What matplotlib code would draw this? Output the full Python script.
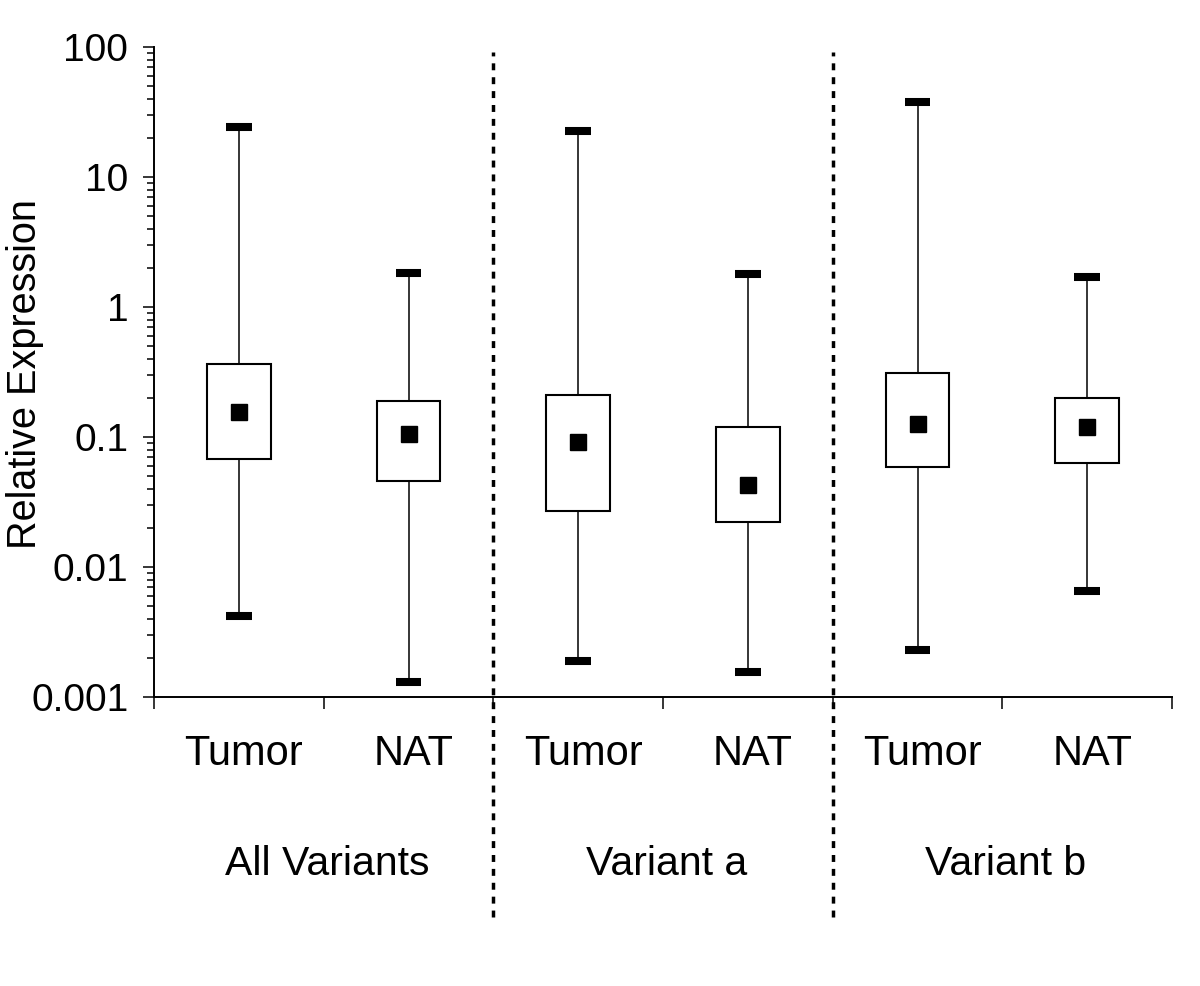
import matplotlib
matplotlib.use("Agg")
import matplotlib.pyplot as plt
from matplotlib.ticker import FixedLocator, FixedFormatter, LogLocator, NullFormatter

plt.rcParams['font.family'] = ['Liberation Sans', 'DejaVu Sans']

# ---- data ----
categories = ["Tumor", "NAT", "Tumor", "NAT", "Tumor", "NAT"]
groups = ["All Variants", "Variant a", "Variant b"]
whisker_high = [24.2, 1.82, 22.5, 1.81, 38.0, 1.70]
q3_values = [0.363, 0.189, 0.211, 0.119, 0.313, 0.200]
mean_values = [0.156, 0.106, 0.092, 0.0427, 0.127, 0.120]
q1_values = [0.0673, 0.0458, 0.0270, 0.0222, 0.0584, 0.0626]
whisker_low = [0.00419, 0.00131, 0.00189, 0.00156, 0.00230, 0.00649]
y_ticks = [0.001, 0.01, 0.1, 1, 10, 100]
y_tick_labels = ["0.001", "0.01", "0.1", "1", "10", "100"]
y_label = "Relative Expression"

fig = plt.figure(figsize=(12, 9.86), dpi=100)
ax = fig.add_axes([154 / 1200, 1 - 697 / 986, (1172 - 154) / 1200, (697 - 47) / 986])

positions = [i + 0.5 for i in range(len(categories))]
stats = []
for i in range(len(categories)):
    stats.append(dict(med=mean_values[i], q1=q1_values[i], q3=q3_values[i],
                      whislo=whisker_low[i], whishi=whisker_high[i],
                      mean=mean_values[i], fliers=[]))

ax.bxp(stats, positions=positions, widths=0.375, capwidths=0.153,
       patch_artist=True, showmeans=True, showfliers=False,
       boxprops=dict(facecolor='white', edgecolor='black', linewidth=1.5),
       whiskerprops=dict(color='black', linewidth=1.1),
       capprops=dict(color='black', linewidth=5.8, solid_capstyle='butt'),
       medianprops=dict(visible=False),
       meanprops=dict(marker='s', markerfacecolor='black', markeredgecolor='black',
                      markersize=11))

ax.set_yscale('log')
ax.set_ylim(0.001, 100)
ax.set_xlim(0, 6)

ax.yaxis.set_major_locator(FixedLocator(y_ticks))
ax.yaxis.set_major_formatter(FixedFormatter(y_tick_labels))
ax.yaxis.set_minor_locator(LogLocator(base=10, subs=range(2, 10), numticks=20))
ax.yaxis.set_minor_formatter(NullFormatter())

ax.set_xticks(range(0, 7))
ax.set_xticklabels([])

for s in ['top', 'right']:
    ax.spines[s].set_visible(False)
for s in ['left', 'bottom']:
    ax.spines[s].set_linewidth(1.4)

ax.tick_params(axis='y', which='major', direction='out', length=8, width=1.1,
               labelsize=28, pad=10.5)
ax.tick_params(axis='y', which='minor', direction='out', length=5, width=1.1)
ax.tick_params(axis='x', which='major', direction='out', length=8.6, width=1.1)

# category labels
for i, c in enumerate(categories):
    ax.text(positions[i] + 0.03, -0.1046, c, transform=ax.get_xaxis_transform(),
            ha='center', va='baseline', fontsize=30)
for j, g in enumerate(groups):
    ax.text(2 * j + 1 + 0.02, -0.2738, g, transform=ax.get_xaxis_transform(),
            ha='center', va='baseline', fontsize=29.5)

# dotted separators
for xs in [2, 4]:
    ax.axvline(xs, ymin=-0.338, ymax=0.992, color='black', linewidth=2.5,
               linestyle=(0, (2, 2)), clip_on=False)

fig.text(25 / 1200, 1 - 374 / 986, y_label, rotation=90, ha='center', va='center',
         fontsize=28.5)

fig.savefig("out.png", dpi=100)
